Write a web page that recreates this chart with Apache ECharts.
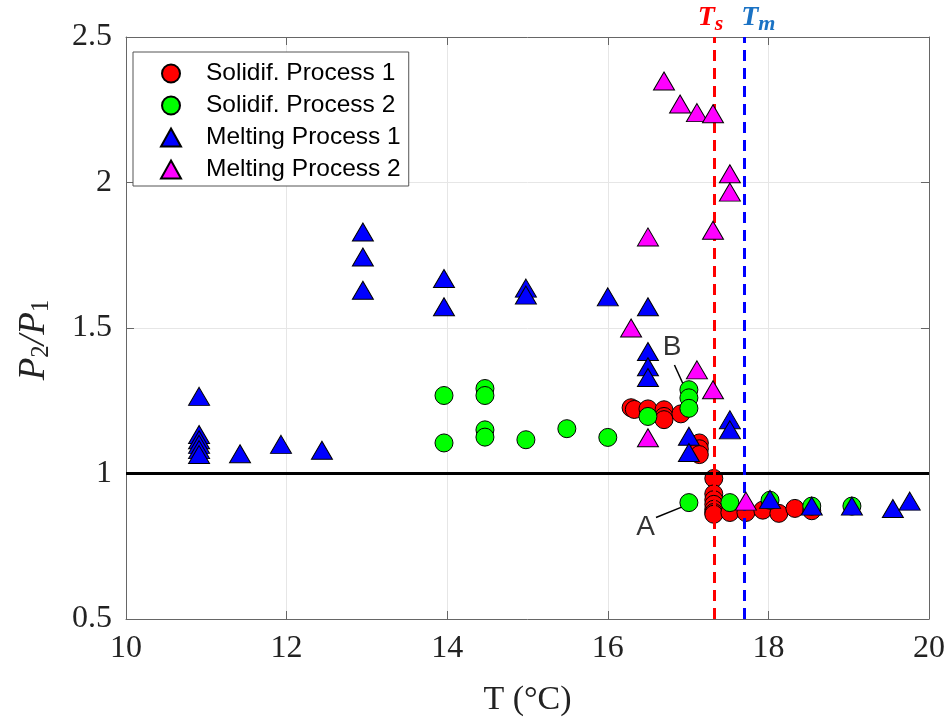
<!DOCTYPE html>
<html>
<head>
<meta charset="utf-8">
<script src="https://cdn.jsdelivr.net/npm/echarts@6/dist/echarts.min.js"></script>
<style>html,body{margin:0;padding:0;background:#fff}#c{width:951px;height:725px}</style>
</head>
<body>
<div id="c"></div>
<script>
// ---- data ----
const seriesNames = ['Solidif. Process 1', 'Solidif. Process 2', 'Melting Process 1', 'Melting Process 2'];
const solid1 = [
  [16.29,1.226],[16.33,1.220],[16.50,1.222],[16.70,1.219],[16.70,1.196],[16.70,1.185],[16.91,1.205],
  [17.14,1.105],[17.14,1.085],[17.14,1.065],
  [17.32,0.983],[17.32,0.930],[17.32,0.910],[17.32,0.894],[17.32,0.877],[17.32,0.866],[17.32,0.860],
  [17.52,0.866],[17.72,0.866],[17.93,0.874],[18.13,0.863],[18.33,0.880],[18.54,0.872]
];
const solid2 = [
  [13.96,1.268],[13.96,1.105],
  [14.47,1.292],[14.47,1.268],[14.47,1.150],[14.47,1.125],
  [14.98,1.116],[15.49,1.154],[16.00,1.124],[16.50,1.196],
  [17.01,1.288],[17.01,1.260],[17.01,1.224],
  [17.01,0.900],[17.52,0.900],[18.02,0.908],[18.54,0.888],[19.04,0.888]
];
const melt1 = [
  [10.91,1.265],[10.91,1.134],[10.91,1.116],[10.91,1.100],[10.91,1.082],[10.91,1.065],
  [11.42,1.068],[11.93,1.100],[12.44,1.080],
  [12.95,1.830],[12.95,1.744],[12.95,1.630],
  [13.96,1.670],[13.96,1.573],
  [14.98,1.637],[14.98,1.613],
  [16.00,1.607],
  [16.50,1.573],[16.50,1.419],[16.50,1.367],[16.50,1.330],
  [17.01,1.128],[17.01,1.072],
  [17.52,1.185],[17.52,1.150],
  [18.02,0.911],[18.54,0.888],[19.04,0.888],[19.55,0.880],[19.76,0.905]
];
const melt2 = [
  [16.70,2.349],[16.90,2.270],[17.11,2.240],[17.31,2.236],
  [17.52,2.030],[17.52,1.967],[17.31,1.836],[16.50,1.813],
  [16.29,1.500],[17.11,1.356],[17.31,1.288],[16.50,1.123],[17.72,0.905]
];
const Ts = 17.33, Tm = 17.70, refLine = 1;
const annA = {text:'A', label:[16.47,0.815], line:[[16.60,0.849],[16.95,0.888]]};
const annB = {text:'B', label:[16.80,1.435], line:[[16.83,1.373],[16.97,1.288]]};
const xTicks = {min:10, max:20, interval:2};
const yTicks = {min:0.5, max:2.5, interval:0.5};

// ---- chart ----
const chart = echarts.init(document.getElementById('c'), null, {renderer:'canvas'});
const serif = '"Liberation Serif", "DejaVu Serif", serif';
const sans = '"Liberation Sans", Arial, sans-serif';
const axisGray = '#666';
function scatter(name, data, symbol, color, size, z) {
  return {name, type:'scatter', data, symbol, symbolSize:size, z,
    itemStyle:{color, borderColor:'#000', borderWidth:1, opacity:1}};
}
const option = {
  animation:false,
  backgroundColor:'#fff',
  grid:{left:126, right:22, top:37, bottom:106, show:false},
  legend:{
    left:133, top:52, orient:'vertical',
    backgroundColor:'#fff', borderColor:'#555', borderWidth:1, borderRadius:0,
    padding:[9, 8, 4, 27], itemGap:7, itemWidth:20, itemHeight:18,
    textStyle:{fontFamily:sans, fontSize:24.5, color:'#000', padding:[0,0,0,20], lineHeight:23},
    data:seriesNames
  },
  xAxis:[{
    type:'value', min:xTicks.min, max:xTicks.max, interval:xTicks.interval, position:'bottom',
    name:'T (°C)', nameLocation:'middle', nameGap:64,
    nameTextStyle:{fontFamily:serif, fontSize:34, color:'#222'},
    axisLine:{onZero:false, lineStyle:{color:axisGray, width:1}},
    axisTick:{inside:true, length:8, lineStyle:{color:axisGray}},
    axisLabel:{fontFamily:serif, fontSize:32, color:'#222', margin:14},
    splitLine:{show:true, lineStyle:{color:'#e6e6e6', width:1}}
  },{
    type:'value', min:xTicks.min, max:xTicks.max, interval:xTicks.interval, position:'top',
    axisLine:{onZero:false, lineStyle:{color:axisGray, width:1}},
    axisTick:{inside:true, length:8, lineStyle:{color:axisGray}},
    axisLabel:{show:false}, splitLine:{show:false}
  }],
  yAxis:[{
    type:'value', min:yTicks.min, max:yTicks.max, interval:yTicks.interval, position:'left',
    name:'{i|P}{s|2}{i|/P}{s|1}', nameLocation:'middle', nameGap:72,
    nameTextStyle:{padding:[0,0,0,-24], rich:{
      i:{fontFamily:serif, fontStyle:'italic', fontSize:37, color:'#222'},
      s:{fontFamily:serif, fontSize:25, color:'#222', padding:[14,0,0,0]}
    }},
    axisLine:{onZero:false, lineStyle:{color:axisGray, width:1}},
    axisTick:{inside:true, length:8, lineStyle:{color:axisGray}},
    axisLabel:{fontFamily:serif, fontSize:32, color:'#222', margin:14},
    splitLine:{show:true, lineStyle:{color:'#e6e6e6', width:1}}
  },{
    type:'value', min:yTicks.min, max:yTicks.max, interval:yTicks.interval, position:'right',
    axisLine:{onZero:false, lineStyle:{color:axisGray, width:1}},
    axisTick:{inside:true, length:8, lineStyle:{color:axisGray}},
    axisLabel:{show:false}, splitLine:{show:false}
  }],
  series:[
    {
      type:'line', data:[], silent:true, z:3,
      markLine:{
        silent:true, symbol:'none', animation:false,
        data:[
          {yAxis:refLine, lineStyle:{color:'#000', width:3, type:'solid'}, label:{show:false}},
          {xAxis:Ts, lineStyle:{color:'#ff0000', width:3, type:[11,7]},
            label:{show:true, position:'end', distance:2, offset:[-4,0], formatter:'{t|T}{s|s}',
              rich:{t:{fontFamily:serif, fontWeight:'bold', fontStyle:'italic', fontSize:28, color:'#ff0000'},
                    s:{fontFamily:serif, fontWeight:'bold', fontStyle:'italic', fontSize:22, color:'#ff0000', padding:[12,0,0,0]}}}},
          {xAxis:Tm, lineStyle:{color:'#0000ff', width:3, type:[11,7]},
            label:{show:true, position:'end', distance:2, offset:[14,0], formatter:'{t|T}{s|m}',
              rich:{t:{fontFamily:serif, fontWeight:'bold', fontStyle:'italic', fontSize:28, color:'#1a72c4'},
                    s:{fontFamily:serif, fontWeight:'bold', fontStyle:'italic', fontSize:22, color:'#1a72c4', padding:[12,0,0,0]}}}},
          [{coord:annA.line[0], lineStyle:{color:'#000', width:1.5, type:'solid'}, label:{show:false}}, {coord:annA.line[1]}],
          [{coord:annB.line[0], lineStyle:{color:'#000', width:1.5, type:'solid'}, label:{show:false}}, {coord:annB.line[1]}]
        ]
      }
    },
    scatter(seriesNames[0], solid1, 'circle', '#ff0000', 18, 4),
    scatter(seriesNames[1], solid2, 'circle', '#00ff00', 18, 5),
    scatter(seriesNames[2], melt1, 'triangle', '#0000ff', [21,18], 6),
    scatter(seriesNames[3], melt2, 'triangle', '#ff00ff', [21,18], 7),
    {
      type:'scatter', silent:true, symbolSize:0, z:8,
      data:[{value:annA.label, name:annA.text},{value:annB.label, name:annB.text}],
      label:{show:true, position:'inside', formatter:'{b}', fontFamily:sans, fontSize:28, color:'#000'}
    }
  ]
};
chart.setOption(option);
</script>
</body>
</html>
